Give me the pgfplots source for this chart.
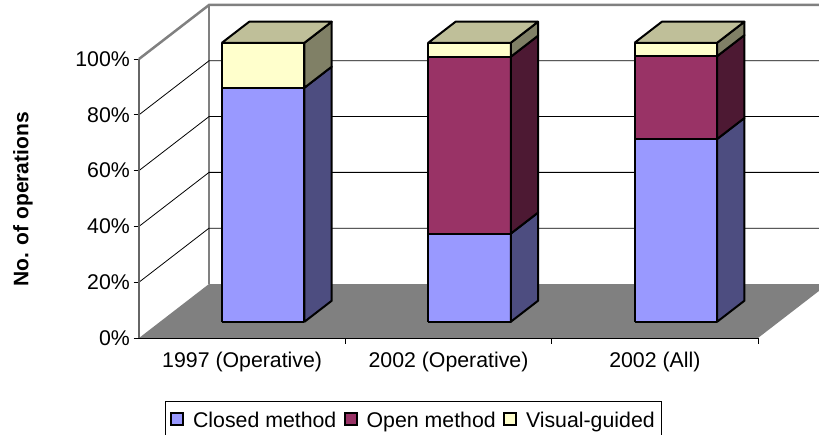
\documentclass[border=0pt]{standalone}
\usepackage{fontspec}
\setmainfont{Liberation Sans}
\usepackage{pgfplots}
\pgfplotsset{compat=1.18}
\newcommand{\fsz}{\fontsize{21.3}{25}\selectfont}
\definecolor{closedf}{HTML}{9999FF}
\definecolor{closeds}{HTML}{4D4D80}
\definecolor{openf}{HTML}{993366}
\definecolor{opens}{HTML}{4D1933}
\definecolor{visf}{HTML}{FFFFCC}
\definecolor{viss}{HTML}{808066}
\definecolor{vist}{HTML}{BFBF99}
% one stacked segment: x left, x right, from, to, front colour, side colour
\newcommand{\seg}[6]{%
  \addplot3[fill=#5,draw=black,line width=2pt,line join=round,no marks,forget plot] coordinates {(#1,0.3,#3) (#2,0.3,#3) (#2,0.3,#4) (#1,0.3,#4) (#1,0.3,#3)};
  \addplot3[fill=#6,draw=black,line width=2pt,line join=round,no marks,forget plot] coordinates {(#2,0.3,#3) (#2,0.69,#3) (#2,0.69,#4) (#2,0.3,#4) (#2,0.3,#3)};
}
\newcommand{\topface}[2]{%
  \addplot3[fill=vist,draw=black,line width=2pt,line join=round,no marks,forget plot] coordinates {(#1,0.3,100) (#2,0.3,100) (#2,0.69,100) (#1,0.69,100) (#1,0.3,100)};
}
\newcommand{\gridl}[1]{%
  \addplot3[black,line width=0.8pt,no marks,forget plot] coordinates {(0,0,#1) (0,1,#1) (3,1,#1)};
}
\newcommand{\ztk}[1]{%
  \addplot3[black,line width=0.8pt,no marks,forget plot] coordinates {(-0.026,0,#1) (0,0,#1)};
}
\newcommand{\xtk}[1]{%
  \addplot3[black,line width=0.8pt,no marks,forget plot] coordinates {(#1,0,0) (#1,0,-2)};
}
\begin{document}
\begin{tikzpicture}
\path[use as bounding box] (0pt,0pt) rectangle (819pt,434pt);
\begin{axis}[
  at={(139pt,96pt)},anchor=origin,
  x={(206.33pt,0pt)},y={(70pt,54pt)},z={(0pt,2.79pt)},
  xmin=0,xmax=3,ymin=0,ymax=1,zmin=0,zmax=100,
  clip=false,axis on top,
  axis lines=left,
  axis line style={-},
  x axis line style={black,line width=1pt},
  y axis line style={draw=none},
  z axis line style={color=black!60,line width=2pt},
  xtick={0.5,1.5,2.5},
  xticklabels={1997 (Operative),2002 (Operative),2002 (All)},
  ytick=\empty,
  ztick={0,20,40,60,80,100},
  zticklabels={0\%,20\%,40\%,60\%,80\%,100\%},
  major tick length=0pt,
  tick style={draw=none},
  every tick label/.append style={font=\fsz},
  xticklabel style={anchor=north,inner ysep=0pt,yshift=-14pt},
  zticklabel style={anchor=east,inner xsep=0pt,xshift=-9pt},
  legend columns=3,
  legend style={at={(axis description cs:0.1,-0.1)},anchor=north west,xshift=-43pt,yshift=-30pt,font=\fsz,draw=black,line width=0.8pt,
    inner xsep=5pt,inner ysep=8pt,/tikz/every even column/.append style={column sep=5.5pt},
    /tikz/every odd column/.append style={column sep=7pt}},
]
% walls
\addplot3[color=black!50,line width=2.5pt,no marks,forget plot] coordinates {(0,0,100) (0,1,100) (3,1,100)};
\addplot3[color=black!50,line width=2.5pt,no marks,forget plot] coordinates {(0,1,0) (0,1,100)};
\gridl{20}\gridl{40}\gridl{60}\gridl{80}
% floor
\addplot3[fill=black!50,draw=none,no marks,forget plot] coordinates {(0,0,0) (3,0,0) (3,1,0) (0,1,0) (0,0,0)};
% ticks
\xtk{1}\xtk{2}\xtk{3}
\ztk{0}\ztk{20}\ztk{40}\ztk{60}\ztk{80}\ztk{100}
% bars
\seg{0.3}{0.7}{0}{83.9}{closedf}{closeds}
\seg{0.3}{0.7}{83.9}{100}{visf}{viss}
\topface{0.3}{0.7}
\seg{1.3}{1.7}{0}{31.6}{closedf}{closeds}
\seg{1.3}{1.7}{31.6}{95}{openf}{opens}
\seg{1.3}{1.7}{95}{100}{visf}{viss}
\topface{1.3}{1.7}
\seg{2.3}{2.7}{0}{65.5}{closedf}{closeds}
\seg{2.3}{2.7}{65.5}{95.2}{openf}{opens}
\seg{2.3}{2.7}{95.2}{100}{visf}{viss}
\topface{2.3}{2.7}
\addlegendimage{legend image code/.code={\draw[fill=closedf,draw=black,line width=1.8pt] (0pt,-5pt) rectangle (12pt,7pt);}}
\addlegendimage{legend image code/.code={\draw[fill=openf,draw=black,line width=1.8pt] (0pt,-5pt) rectangle (12pt,7pt);}}
\addlegendimage{legend image code/.code={\draw[fill=visf,draw=black,line width=1.8pt] (0pt,-5pt) rectangle (12pt,7pt);}}
\legend{Closed method,Open method,Visual-guided\hspace{5pt}}
\end{axis}
\node[rotate=90,font=\fontsize{21}{25}\selectfont\bfseries] at (23pt,234.5pt) {No. of operations};
\end{tikzpicture}
\end{document}
